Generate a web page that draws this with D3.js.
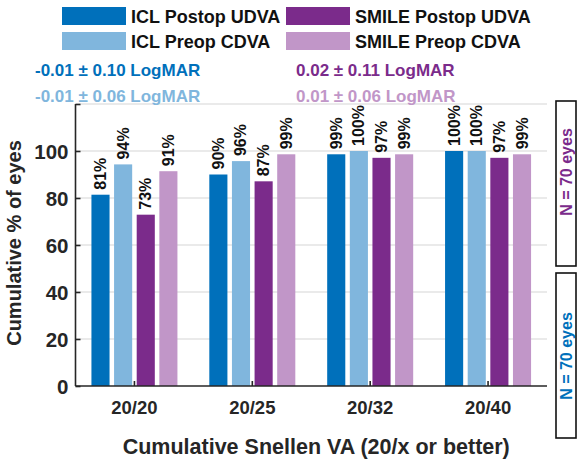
<!DOCTYPE html>
<html>
<head>
<meta charset="utf-8">
<script src="https://cdn.jsdelivr.net/npm/d3@7"></script>
<style>
  body { margin: 0; background: #fff; }
  svg { font-family: "Liberation Sans", Arial, sans-serif; }
</style>
</head>
<body>
<div class="chart"></div>
<script>
// categories and series
var categories = ["20/20", "20/25", "20/32", "20/40"];
var seriesNames = ["ICL Postop UDVA", "ICL Preop CDVA", "SMILE Postop UDVA", "SMILE Preop CDVA"];
var iclPostop = [81.4, 90.0, 98.6, 100];
var iclPreop = [94.3, 95.7, 100, 100];
var smilePostop = [72.9, 87.1, 97.1, 97.1];
var smilePreop = [91.4, 98.6, 98.6, 98.6];
var logmarText = ["-0.01 ± 0.10 LogMAR", "-0.01 ± 0.06 LogMAR", "0.02 ± 0.11 LogMAR", "0.01 ± 0.06 LogMAR"];
var yTicks = [0, 20, 40, 60, 80, 100];
var colors = ["#0070bb", "#80b6dd", "#7b2b8b", "#c196c8"];

var width = 581, height = 461;
var margin = {left: 75.5, right: 34, top: 104, bottom: 75};

var svg = d3.select(".chart")
  .append("svg")
    .attr("width", width)
    .attr("height", height);

var allSeries = [iclPostop, iclPreop, smilePostop, smilePreop];

var x = d3.scaleBand()
    .domain(categories)
    .range([margin.left, width - margin.right]);

var xs = d3.scaleBand()
    .domain(seriesNames)
    .range([-43, 43])
    .paddingInner(0.2);

var y = d3.scaleLinear()
    .domain([0, 120])
    .range([height - margin.bottom, margin.top]);

// gridlines
svg.append("g")
  .selectAll("line")
  .data([20, 40, 60, 80, 100, 120])
  .join("line")
    .attr("x1", margin.left)
    .attr("x2", width - margin.right)
    .attr("y1", d => y(d))
    .attr("y2", d => y(d))
    .attr("stroke", "#e3e3e3")
    .attr("stroke-width", 1.5);

// bars
var rows = [];
categories.forEach(function(c, i){
  seriesNames.forEach(function(s, j){
    rows.push({cat: c, ser: s, idx: j, value: allSeries[j][i]});
  });
});

svg.append("g")
  .selectAll("rect")
  .data(rows)
  .join("rect")
    .attr("x", d => x(d.cat) + x.bandwidth() / 2 + xs(d.ser))
    .attr("y", d => y(d.value))
    .attr("width", xs.bandwidth())
    .attr("height", d => y(0) - y(d.value))
    .attr("fill", d => colors[d.idx]);

// value labels
svg.append("g")
  .selectAll("text")
  .data(rows)
  .join("text")
    .attr("transform", d => "translate(" + (x(d.cat) + x.bandwidth() / 2 + xs(d.ser) + xs.bandwidth() / 2 + 5.5) + "," + (y(d.value) - 5) + ") rotate(-90)")
    .attr("font-size", 16)
    .attr("font-weight", "bold")
    .attr("fill", "#111")
    .text(d => Math.round(d.value) + "%");

// y axis
var yAxis = svg.append("g")
  .attr("transform", "translate(" + margin.left + ",0)")
  .call(d3.axisRight(y).tickValues([0, 20, 40, 60, 80, 100, 120]).tickSize(5).tickFormat(""));
yAxis.select(".domain").attr("d", "M0," + y(120) + "V" + y(0));
yAxis.selectAll("line, path").attr("stroke", "#262626").attr("stroke-width", 1.6);

svg.append("g")
  .selectAll("text")
  .data(yTicks)
  .join("text")
    .attr("x", margin.left - 7)
    .attr("y", d => y(d) + 7.5)
    .attr("text-anchor", "end")
    .attr("font-size", 20.5)
    .attr("font-weight", "bold")
    .attr("fill", "#262626")
    .text(d => d);

// x axis
var xAxis = svg.append("g")
  .attr("transform", "translate(0," + y(0) + ")")
  .call(d3.axisTop(x).tickSize(5).tickFormat(""));
xAxis.select(".domain").attr("d", "M" + margin.left + ",0H" + (width - margin.right));
xAxis.selectAll("line, path").attr("stroke", "#262626").attr("stroke-width", 1.6);

svg.append("g")
  .selectAll("text")
  .data(categories)
  .join("text")
    .attr("x", d => x(d) + x.bandwidth() / 2)
    .attr("y", 414)
    .attr("text-anchor", "middle")
    .attr("font-size", 18.5)
    .attr("font-weight", "bold")
    .attr("fill", "#262626")
    .text(d => d);

// axis titles
svg.append("text")
  .attr("x", (margin.left + width - margin.right) / 2 + 5)
  .attr("y", 454)
  .attr("text-anchor", "middle")
  .attr("font-size", 21.5)
  .attr("font-weight", "bold")
  .attr("fill", "#262626")
  .text("Cumulative Snellen VA (20/x or better)");

svg.append("text")
  .attr("transform", "translate(21," + 243 + ") rotate(-90)")
  .attr("text-anchor", "middle")
  .attr("font-size", 20)
  .attr("font-weight", "bold")
  .attr("fill", "#262626")
  .text("Cumulative % of eyes");

// legend
var legPos = [[62, 7], [62, 32], [286, 7], [286, 32]];
var leg = svg.append("g")
  .selectAll("g")
  .data(seriesNames)
  .join("g")
    .attr("transform", (d, i) => "translate(" + legPos[i][0] + "," + legPos[i][1] + ")");
leg.append("rect")
  .attr("width", 64)
  .attr("height", 18)
  .attr("fill", (d, i) => colors[i]);
leg.append("text")
  .attr("x", 69)
  .attr("y", 15.5)
  .attr("font-size", 18)
  .attr("font-weight", "bold")
  .attr("fill", "#111")
  .text(d => d);

// LogMAR means
var logPos = [[35, 76], [35, 102], [296, 76], [296, 102]];
svg.append("g")
  .selectAll("text")
  .data(logmarText)
  .join("text")
    .attr("x", (d, i) => logPos[i][0])
    .attr("y", (d, i) => logPos[i][1])
    .attr("font-size", 17)
    .attr("font-weight", "bold")
    .attr("fill", (d, i) => colors[i])
    .text(d => d);

// N boxes
var boxes = [{y0: 101, y1: 266, mid: 172, c: colors[2]}, {y0: 273, y1: 438, mid: 356, c: colors[0]}];
var nb = svg.append("g")
  .selectAll("g")
  .data(boxes)
  .join("g");
nb.append("rect")
  .attr("x", 556)
  .attr("y", d => d.y0)
  .attr("width", 20)
  .attr("height", d => d.y1 - d.y0)
  .attr("fill", "white")
  .attr("stroke", "#111")
  .attr("stroke-width", 1.6);
nb.append("text")
  .attr("transform", d => "translate(572," + d.mid + ") rotate(-90)")
  .attr("text-anchor", "middle")
  .attr("font-size", 16)
  .attr("font-weight", "bold")
  .attr("fill", d => d.c)
  .text("N = 70 eyes");
</script>
</body>
</html>
